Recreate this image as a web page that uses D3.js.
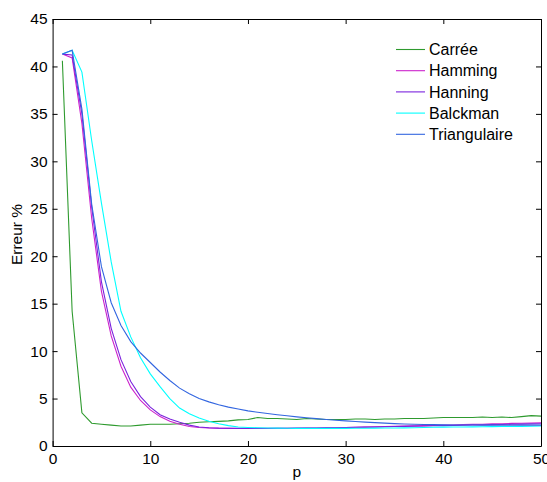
<!DOCTYPE html>
<html>
<head>
<meta charset="utf-8">
<script src="https://cdn.jsdelivr.net/npm/d3@7"></script>
<style>
  html, body { margin: 0; padding: 0; background: #fff; }
  svg { display: block; font-family: "Liberation Sans", Arial, sans-serif; }
</style>
</head>
<body>
<svg id="chart" width="547" height="482"></svg>
<script>
const seriesNames = ["Carrée", "Hamming", "Hanning", "Balckman", "Triangulaire"];
const seriesColors = ["#2e9a2e", "#cc22cc", "#7a22dd", "#00ffff", "#3366e0"];

const pValues = d3.range(1, 51);

const carree = [40.6, 14.2, 3.5, 2.4, 2.3, 2.2, 2.1, 2.1, 2.2, 2.3,
  2.3, 2.3, 2.35, 2.4, 2.5, 2.55, 2.6, 2.65, 2.75, 2.8,
  3.0, 2.9, 2.9, 2.85, 2.8, 2.9, 2.85, 2.8, 2.8, 2.8,
  2.85, 2.85, 2.8, 2.85, 2.85, 2.9, 2.9, 2.9, 2.95, 3.0,
  3.0, 3.0, 3.0, 3.05, 3.0, 3.05, 3.0, 3.1, 3.2, 3.15];

const hamming = [41.3, 40.9, 34.0, 24.0, 16.3, 11.6, 8.4, 6.2, 4.8, 3.8,
  3.1, 2.6, 2.3, 2.05, 1.95, 1.9, 1.87, 1.86, 1.85, 1.85,
  1.85, 1.85, 1.86, 1.86, 1.87, 1.88, 1.9, 1.91, 1.93, 1.95,
  1.97, 2.0, 2.02, 2.05, 2.07, 2.1, 2.12, 2.15, 2.17, 2.2,
  2.22, 2.25, 2.28, 2.3, 2.33, 2.35, 2.38, 2.4, 2.43, 2.45];

const hanning = [41.3, 41.2, 35.0, 25.2, 17.3, 12.4, 9.1, 6.8, 5.2, 4.1,
  3.3, 2.85, 2.5, 2.2, 2.0, 1.92, 1.88, 1.87, 1.86, 1.86,
  1.86, 1.86, 1.87, 1.87, 1.88, 1.89, 1.9, 1.91, 1.93, 1.95,
  1.97, 1.99, 2.01, 2.03, 2.05, 2.07, 2.09, 2.11, 2.13, 2.15,
  2.17, 2.19, 2.21, 2.23, 2.25, 2.27, 2.29, 2.31, 2.33, 2.35];

const balckman = [41.3, 41.7, 39.4, 32.2, 25.6, 19.4, 14.2, 11.5, 9.3, 7.6,
  6.25, 5.0, 4.0, 3.4, 2.95, 2.6, 2.35, 2.15, 2.0, 1.95,
  1.92, 1.9, 1.88, 1.87, 1.86, 1.86, 1.86, 1.86, 1.86, 1.86,
  1.87, 1.87, 1.88, 1.89, 1.9, 1.91, 1.93, 1.95, 1.97, 1.99,
  2.0, 2.01, 2.02, 2.03, 2.04, 2.05, 2.06, 2.07, 2.08, 2.1];

const triangulaire = [41.3, 41.7, 35.5, 25.5, 18.9, 15.1, 12.7, 11.0, 9.8, 8.8,
  7.8, 6.9, 6.1, 5.5, 5.0, 4.65, 4.35, 4.1, 3.9, 3.7,
  3.55, 3.42, 3.3, 3.18, 3.07, 2.97, 2.88, 2.8, 2.72, 2.65,
  2.58, 2.52, 2.46, 2.41, 2.36, 2.32, 2.29, 2.27, 2.25, 2.23,
  2.22, 2.21, 2.21, 2.2, 2.2, 2.2, 2.2, 2.2, 2.2, 2.2];

const xTicks = [0, 10, 20, 30, 40, 50];
const yTicks = [0, 5, 10, 15, 20, 25, 30, 35, 40, 45];

const allSeries = [carree, hamming, hanning, balckman, triangulaire];

const svg = d3.select("#chart");
const L = 52.6, R = 541, T = 19, B = 446;

const x = d3.scaleLinear().domain([0, 50]).range([L, R]);
const y = d3.scaleLinear().domain([0, 45]).range([B, T]);

const tickLen = 5;
const tickFont = 15.5;
const legFont = 16;

svg.append("clipPath").attr("id", "clip")
  .append("rect").attr("x", L).attr("y", T).attr("width", R - L).attr("height", B - T);

const line = d3.line().x((d, i) => x(pValues[i])).y(d => y(d));
const g = svg.append("g").attr("clip-path", "url(#clip)");
allSeries.forEach((s, k) => {
  g.append("path").datum(s)
    .attr("d", line)
    .attr("fill", "none")
    .attr("stroke", seriesColors[k])
    .attr("stroke-width", 1.1);
});

const bottomAxis = d3.axisBottom(x).tickValues(xTicks).tickSizeInner(-tickLen).tickSizeOuter(0).tickPadding(7);
const topAxis = d3.axisTop(x).tickValues(xTicks).tickSizeInner(-tickLen).tickSizeOuter(0).tickFormat("");
const leftAxis = d3.axisLeft(y).tickValues(yTicks).tickSizeInner(-tickLen).tickSizeOuter(0).tickPadding(5);
const rightAxis = d3.axisRight(y).tickValues(yTicks).tickSizeInner(-tickLen).tickSizeOuter(0).tickFormat("");

function styleAxis(sel) {
  sel.attr("font-family", null).attr("font-size", null);
  sel.selectAll("path").attr("stroke", "#000").attr("stroke-width", 1);
  sel.selectAll("line").attr("stroke", "#000").attr("stroke-width", 1);
  sel.selectAll("text").attr("fill", "#000").style("font-size", tickFont + "px")
    .style("font-family", "'Liberation Sans', Arial, sans-serif");
}

svg.append("g").attr("transform", `translate(0,${B})`).call(bottomAxis).call(styleAxis);
svg.append("g").attr("transform", `translate(0,${T})`).call(topAxis).call(styleAxis);
svg.append("g").attr("transform", `translate(${L},0)`).call(leftAxis).call(styleAxis);
svg.append("g").attr("transform", `translate(${R},0)`).call(rightAxis).call(styleAxis);

svg.append("text").attr("x", (L + R) / 2).attr("y", 477)
  .attr("text-anchor", "middle").style("font-size", tickFont + "px").text("p");
svg.append("text").attr("transform", `translate(22,${(T + B) / 2 + 2}) rotate(-90)`)
  .attr("text-anchor", "middle").style("font-size", tickFont + "px").text("Erreur %");

const legX1 = 396, legX2 = 425, legY0 = 49.5, legDy = 21.2;
seriesNames.forEach((name, k) => {
  const yy = legY0 + k * legDy;
  svg.append("line").attr("x1", legX1).attr("x2", legX2).attr("y1", yy).attr("y2", yy)
    .attr("stroke", seriesColors[k]).attr("stroke-width", 1.1);
  svg.append("text").attr("x", legX2 + 4).attr("y", yy).attr("dy", "0.36em")
    .style("font-size", legFont + "px").text(name);
});
</script>
</body>
</html>
